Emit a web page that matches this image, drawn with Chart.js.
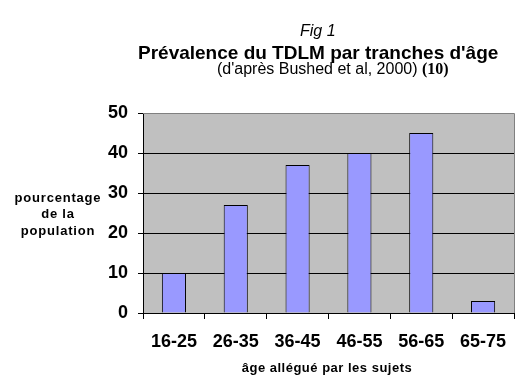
<!DOCTYPE html>
<html>
<head>
<meta charset="utf-8">
<script src="https://cdn.jsdelivr.net/npm/chart.js@4.4.1/dist/chart.umd.min.js"></script>
<style>
  html, body { margin: 0; padding: 0; background: #fff; }
  #wrap { position: relative; width: 521px; height: 386px; overflow: hidden; font-family: "Liberation Sans", Arial, sans-serif; color: #000; }
  #c { position: absolute; left: 0; top: 0; }
  .t { position: absolute; white-space: nowrap; line-height: 1; }
  #fig { left: 300px; top: 23px; font-size: 16px; font-style: italic; }
  #title { left: 138px; top: 43px; font-size: 19px; font-weight: bold; }
  #sub { left: 217px; top: 60.5px; font-size: 16px; }
  #sub b { font-family: "Liberation Serif", "Times New Roman", serif; font-weight: bold; font-size: 16px; }
  #ytitle { left: 8px; width: 100px; top: 189.5px; font-size: 13px; font-weight: bold; letter-spacing: 0.8px; line-height: 16.5px; text-align: center; white-space: normal; }
  #xtitle { left: 227px; width: 200px; top: 361px; font-size: 13px; font-weight: bold; letter-spacing: 0.5px; text-align: center; }
</style>
</head>
<body>
<div id="wrap">
  <canvas id="c" width="521" height="386"></canvas>
  <div class="t" id="fig">Fig 1</div>
  <div class="t" id="title">Prévalence du TDLM par tranches d'âge</div>
  <div class="t" id="sub">(d'après Bushed et al, 2000) <b>(10)</b></div>
  <div class="t" id="ytitle">pourcentage<br>de la<br>population</div>
  <div class="t" id="xtitle">âge allégué par les sujets</div>
</div>
<script>
const categories = ["16-25", "26-35", "36-45", "46-55", "56-65", "65-75"];
const prevalence = [10, 27, 37, 40, 45, 3];
const yTicks = [0, 10, 20, 30, 40, 50];

const plotFrame = {
  id: 'plotFrame',
  beforeDraw(chart) {
    const a = chart.chartArea, ctx = chart.ctx;
    ctx.save();
    ctx.fillStyle = '#C0C0C0';
    ctx.fillRect(a.left, a.top, a.right - a.left, a.bottom - a.top);
    ctx.restore();
  },
  afterDraw(chart) {
    const a = chart.chartArea, ctx = chart.ctx;
    ctx.save();
    ctx.strokeStyle = '#808080';
    ctx.lineWidth = 1;
    ctx.beginPath();
    ctx.moveTo(a.left, Math.round(a.top) + 0.5);
    ctx.lineTo(Math.round(a.right) + 0.5, Math.round(a.top) + 0.5);
    ctx.lineTo(Math.round(a.right) + 0.5, Math.round(a.bottom));
    ctx.stroke();
    ctx.restore();
  }
};

new Chart(document.getElementById('c'), {
  type: 'bar',
  data: {
    labels: categories,
    datasets: [{
      data: prevalence,
      backgroundColor: '#9999FF',
      borderColor: '#000000',
      borderWidth: 1,
      barPercentage: 0.39,
      categoryPercentage: 1.0
    }]
  },
  options: {
    responsive: false,
    animation: false,
    layout: { padding: { top: 113, right: 7, bottom: 0, left: 0 } },
    plugins: { legend: { display: false }, tooltip: { enabled: false }, title: { display: false } },
    scales: {
      x: {
        afterFit(s) { s.height = 73; },
        grid: { drawOnChartArea: false, drawTicks: true, tickLength: 6, color: '#000', offset: true },
        border: { color: '#000', width: 1 },
        ticks: { color: '#000', padding: 12, font: { family: 'Liberation Sans', size: 18, weight: 'bold' } }
      },
      y: {
        min: 0, max: 50,
        afterFit(s) { s.width = 143; },
        afterBuildTicks(s) { s.ticks = yTicks.map(v => ({ value: v })); },
        grid: {
          color: (c) => (c.tick && c.tick.value === 50 ? '#808080' : '#000'),
          tickColor: '#000', tickLength: 5, drawTicks: true
        },
        border: { color: '#000', width: 1 },
        ticks: { color: '#000', padding: 10, font: { family: 'Liberation Sans', size: 18, weight: 'bold' } }
      }
    }
  },
  plugins: [plotFrame]
});
</script>
</body>
</html>
